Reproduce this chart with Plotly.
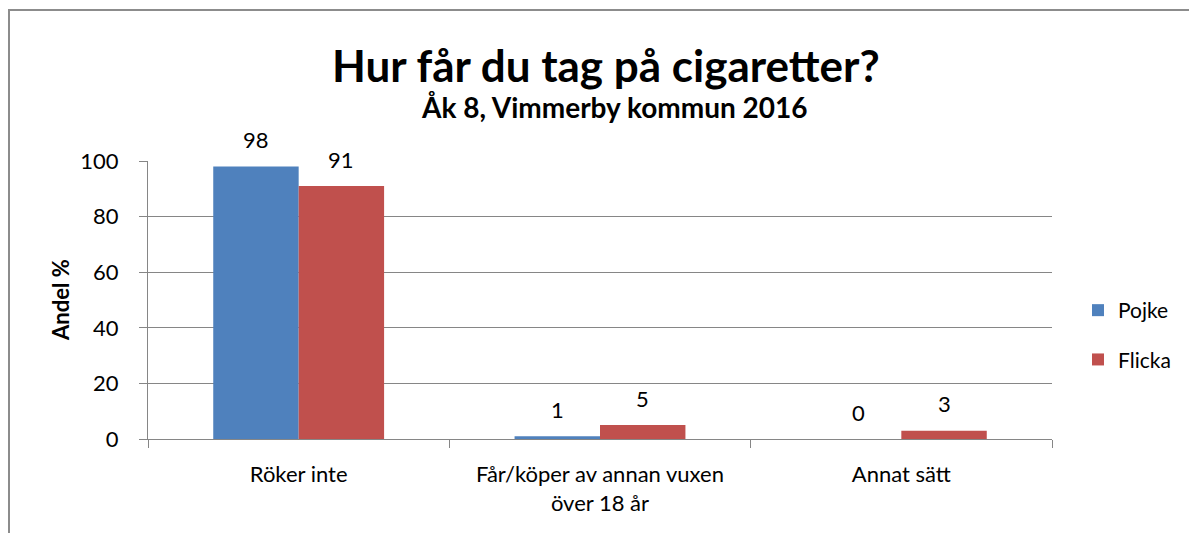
import plotly.graph_objects as go

categories = ["Röker inte", "Får/köper av annan vuxen<br>över 18 år", "Annat sätt"]
pojke = [98, 1, 0]
flicka = [91, 5, 3]
series_names = ["Pojke", "Flicka"]
colors = ["#4F81BD", "#C0504D"]
title_text = "Hur får du tag på cigaretter?"
subtitle_text = "Åk 8, Vimmerby kommun 2016"
y_title = "Andel %"
y_ticks = [0, 20, 40, 60, 80, 100]

FONT = "Lato"
OFF = 8  # page body margin
W, H = 1197 - OFF, 533 - OFF
# plot area in page coordinates
PL, PR, PT, PB = 148, 1052, 161, 439
ML, MT = PL - OFF, PT - OFF
MR, MB = W - (PR - OFF), H - (PB - OFF)
PW = PR - PL
PH = PB - PT


def px(xp):
    return (xp - PL) / PW


def py(yp):
    return (PB - yp) / PH


fig = go.Figure()
for name, vals, col in zip(series_names, [pojke, flicka], colors):
    fig.add_trace(go.Bar(name=name, x=categories, y=vals, marker=dict(color=col, line=dict(width=0)),
                         legendgroup=name))

cat_w = PW / len(categories)
bar_w = cat_w * (1 - 0.433) / 2
annotations = []
for i, vals in enumerate([pojke, flicka]):
    off = (-0.5 if i == 0 else 0.5) * bar_w
    for c, v in zip(categories, vals):
        annotations.append(dict(x=c, y=v, xref="x", yref="y", text=str(v), showarrow=False,
                                xshift=off, yshift=27, yanchor="middle",
                                font=dict(family=FONT, size=22, color="#000")))

annotations.append(dict(x=px(606), y=py(65), xref="paper", yref="paper",
                        text="<b>" + title_text + "</b>", showarrow=False,
                        xanchor="center", yanchor="middle",
                        font=dict(family=FONT, size=44, color="#000")))
annotations.append(dict(x=px(614), y=py(107), xref="paper", yref="paper",
                        text="<b>" + subtitle_text + "</b>", showarrow=False,
                        xanchor="center", yanchor="middle",
                        font=dict(family=FONT, size=28, color="#000")))
annotations.append(dict(x=px(60), y=py(300), xref="paper", yref="paper",
                        text="<b>" + y_title + "</b>", showarrow=False, textangle=-90,
                        xanchor="center", yanchor="middle",
                        font=dict(family=FONT, size=22, color="#000")))

fig.update_layout(
    width=W, height=H,
    margin=dict(l=ML, r=MR, t=MT, b=MB, autoexpand=False),
    paper_bgcolor="white", plot_bgcolor="white",
    barmode="group", bargap=0.433, bargroupgap=0,
    font=dict(family=FONT, size=21, color="#000"),
    showlegend=True,
    legend=dict(x=px(1078), y=py(335), xanchor="left", yanchor="middle",
                font=dict(family=FONT, size=21, color="#000"), itemwidth=30,
                traceorder="grouped", tracegroupgap=19, bgcolor="rgba(0,0,0,0)"),
    annotations=annotations,
    shapes=[dict(type="rect", xref="paper", yref="paper",
                 x0=px(9), x1=px(1196),
                 y0=-0.6, y1=py(10),
                 line=dict(color="#8C8C8C", width=2), layer="below")],
)
fig.update_xaxes(type="category", showline=True, linecolor="#868686", linewidth=1,
                 ticks="outside", tickson="boundaries", ticklen=8, tickcolor="#868686",
                 ticklabelstandoff=16, tickfont=dict(family=FONT, size=22, color="#000"),
                 showgrid=False, fixedrange=True)
fig.update_yaxes(range=[0, 100], tickvals=y_ticks, showline=True, linecolor="#868686", linewidth=1,
                 ticks="outside", ticklen=8, tickcolor="#868686", ticklabelstandoff=16,
                 showgrid=True, gridcolor="#868686", gridwidth=1, zeroline=False,
                 tickfont=dict(family=FONT, size=22, color="#000"), fixedrange=True)

fig.write_html("out.html")
